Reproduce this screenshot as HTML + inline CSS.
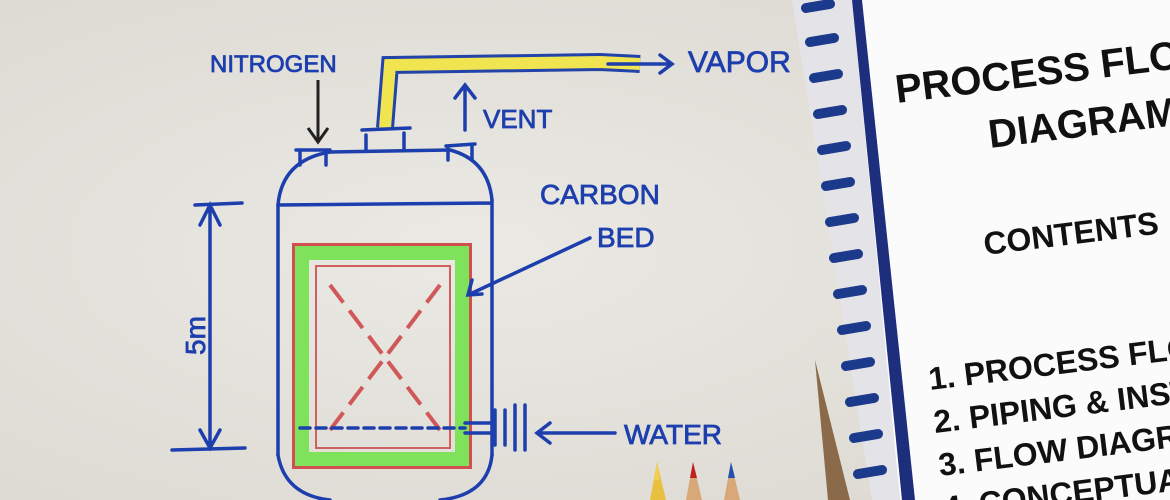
<!DOCTYPE html>
<html><head><meta charset="utf-8"><style>
html,body{margin:0;padding:0;}
body{width:1170px;height:500px;overflow:hidden;background:#e3e1db;position:relative;font-family:"Liberation Sans",sans-serif;}
svg{position:absolute;left:0;top:0;}
</style></head><body>
<svg width="1170" height="500" viewBox="0 0 1170 500">
<defs>
<radialGradient id="pg" cx="40%" cy="50%" r="70%"><stop offset="0" stop-color="#ebe9e4"/><stop offset="1" stop-color="#dcd9d2"/></radialGradient>
</defs>
<rect width="1170" height="500" fill="url(#pg)"/>
<polygon points="815,360 850,500 828,500" fill="#8a6a48"/>
<!-- booklet -->
<polygon points="792,0 1170,0 1170,500 880,500" fill="#fbfbfb"/>
<polygon points="792,0 852,0 900,500 872,500" fill="#e4e4e8"/>
<polygon points="852,0 862,0 915,500 902,500" fill="#1c2e7c"/>
<g stroke="#1c3a8c" stroke-width="10" stroke-linecap="round">
<line x1="806" y1="8" x2="830" y2="4"/><line x1="810" y1="42" x2="834" y2="38"/>
<line x1="814" y1="78" x2="838" y2="74"/><line x1="818" y1="114" x2="842" y2="110"/>
<line x1="822" y1="150" x2="846" y2="146"/><line x1="826" y1="186" x2="850" y2="182"/>
<line x1="830" y1="222" x2="854" y2="218"/><line x1="834" y1="258" x2="858" y2="254"/>
<line x1="838" y1="294" x2="862" y2="290"/><line x1="842" y1="330" x2="866" y2="326"/>
<line x1="846" y1="366" x2="870" y2="362"/><line x1="850" y1="402" x2="874" y2="398"/>
<line x1="854" y1="438" x2="878" y2="434"/><line x1="858" y1="474" x2="882" y2="470"/>
</g>
<g font-family="Liberation Sans" font-weight="bold" fill="#111">
<text transform="translate(897,103) rotate(-7)" font-size="40">PROCESS FLOW</text>
<text transform="translate(990,148) rotate(-7)" font-size="40">DIAGRAM</text>
<text transform="translate(985,255) rotate(-7)" font-size="32">CONTENTS</text>
<text transform="translate(930,390) rotate(-7)" font-size="32">1. PROCESS FLOW</text>
<text transform="translate(935,433) rotate(-7)" font-size="32">2. PIPING &amp; INSTR</text>
<text transform="translate(940,476) rotate(-7)" font-size="32">3. FLOW DIAGRAM</text>
<text transform="translate(945,519) rotate(-7)" font-size="32">4. CONCEPTUAL</text>
</g>
<!-- pipe -->
<path d="M385,128 L390,65 L600,62 L640,64" stroke="#2244aa" stroke-width="18" fill="none"/>
<path d="M385,128 L390,65 L600,62 L640,64" stroke="#f0e450" stroke-width="12" fill="none"/>
<!-- inner bed -->
<rect x="294" y="245" width="176" height="222" fill="none" stroke="#d05050" stroke-width="4"/>
<rect x="302" y="253" width="160" height="206" fill="none" stroke="#7ee35a" stroke-width="14"/>
<rect x="316" y="266" width="134" height="182" fill="none" stroke="#d06060" stroke-width="2"/>
<g stroke="#d05858" stroke-width="4" stroke-dasharray="22,10"><line x1="330" y1="285" x2="440" y2="430"/><line x1="440" y1="285" x2="330" y2="430"/></g>
<g stroke="#1d3fae" stroke-width="3.5" fill="none" stroke-linecap="round">
<path d="M278,205 L278,455 M492,200 L492,455 M278,205 L492,203"/>
<path d="M278,205 Q282,160 330,152 L450,150 Q488,160 492,200"/>
<path d="M278,455 Q285,495 330,500 M492,455 Q488,495 440,500"/>
<line x1="300" y1="428" x2="465" y2="428" stroke-dasharray="10,6"/>
<path d="M300,150 L300,165 M326,150 L326,165 M296,150 L330,150"/>
<path d="M366,135 L366,150 M404,133 L404,150 M362,130 L410,128"/>
<path d="M448,148 L448,160 M472,146 L472,160 M446,146 L475,144"/>
<path d="M465,423 L490,423 M465,433 L490,433 M495,410 L495,445 M505,410 L505,445 M515,405 L515,450 M525,405 L525,450"/>
<path d="M210,205 L210,448 M195,205 L242,203 M172,450 L245,448 M200,225 L210,205 L220,225 M200,430 L210,448 L220,430"/>
<path d="M615,433 L537,433 M550,423 L537,433 L550,443"/>
<path d="M590,238 L468,295 M472,280 L468,295 L482,294"/>
<path d="M465,130 L465,85 M455,98 L465,85 L475,98"/>
<path d="M608,64 L672,64 M660,55 L672,64 L660,73"/>
</g>
<path d="M318,80 L318,142 M308,128 L318,142 L328,128" stroke="#222" stroke-width="3" fill="none"/>
<g font-family="Liberation Sans" fill="#1d3fae" stroke="#1d3fae" stroke-width="0.8" font-size="26">
<text x="210" y="72" font-size="24">NITROGEN</text>
<text x="688" y="72" font-size="30">VAPOR</text>
<text x="483" y="128">VENT</text>
<text x="540" y="204" font-size="28">CARBON</text>
<text x="597" y="247" font-size="28">BED</text>
<text x="624" y="444" font-size="28">WATER</text>
<text transform="translate(205,355) rotate(-90)" font-size="28">5m</text>
</g>
<!-- pencils -->
<polygon points="650,500 657,462 666,500" fill="#e8c040"/><polygon points="654,480 657,462 660,480" fill="#f0d050"/>
<polygon points="686,500 693,462 702,500" fill="#d8a878"/><polygon points="690,478 693,462 697,478" fill="#c02020"/>
<polygon points="724,500 731,462 740,500" fill="#d8a878"/><polygon points="728,478 731,462 735,478" fill="#2050b0"/>
</svg>
</body></html>
